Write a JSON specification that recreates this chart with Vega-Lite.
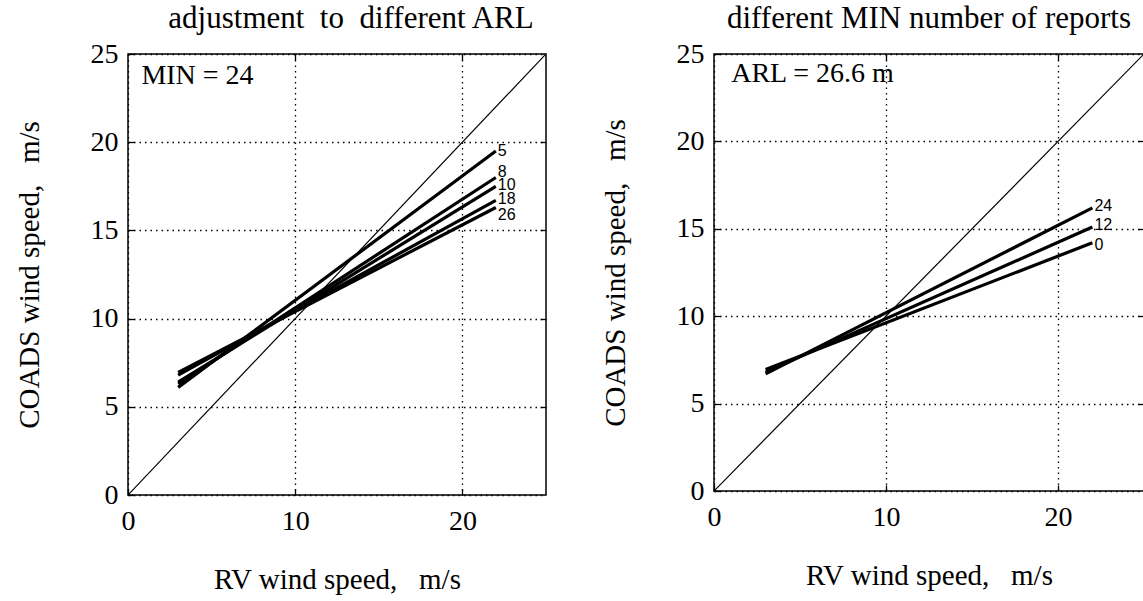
{
  "$schema": "https://vega.github.io/schema/vega-lite/v6.json",
  "background": "white",
  "padding": {"left": 14, "top": 2, "right": 0, "bottom": 0},
  "spacing": 52,
  "config": {
    "font": "Liberation Serif",
    "view": {"stroke": "black", "strokeWidth": 1.5},
    "axis": {
      "labelFont": "Liberation Serif", "labelFontSize": 28, "labelColor": "black",
      "titleFont": "Liberation Serif", "titleFontSize": 29, "titleFontWeight": "normal", "titleColor": "black",
      "domain": false, "gridColor": "black", "gridOpacity": 1, "gridDash": [1.5, 4], "gridWidth": 1.3,
      "tickColor": "black", "tickSize": -6, "tickWidth": 1.3, "labelFlush": false, "labelOverlap": false
    },
    "axisX": {"labelPadding": 18, "titlePadding": 30},
    "axisY": {"labelPadding": 16, "titlePadding": 46},
    "title": {"font": "Liberation Serif", "fontSize": 31, "fontWeight": "normal", "color": "black", "offset": 5}
  },
  "datasets": {
    "diag": [{"x": 0, "y": 0}, {"x": 25, "y": 25}],
    "leftLines": [
      {"ARL": "5", "x": 3, "y": 6.1}, {"ARL": "5", "x": 22, "y": 19.5},
      {"ARL": "8", "x": 3, "y": 6.3}, {"ARL": "8", "x": 22, "y": 18.0},
      {"ARL": "10", "x": 3, "y": 6.4}, {"ARL": "10", "x": 22, "y": 17.5},
      {"ARL": "18", "x": 3, "y": 6.8}, {"ARL": "18", "x": 22, "y": 16.7},
      {"ARL": "26", "x": 3, "y": 6.95}, {"ARL": "26", "x": 22, "y": 16.3}
    ],
    "leftLabels": [
      {"label": "5", "x": 22, "y": 19.5},
      {"label": "8", "x": 22, "y": 18.3},
      {"label": "10", "x": 22, "y": 17.6},
      {"label": "18", "x": 22, "y": 16.8},
      {"label": "26", "x": 22, "y": 15.9}
    ],
    "leftNote": [{"x": 0.8, "y": 23.3, "text": "MIN = 24"}],
    "rightLines": [
      {"MIN": "24", "x": 3, "y": 6.7}, {"MIN": "24", "x": 22, "y": 16.2},
      {"MIN": "12", "x": 3, "y": 6.8}, {"MIN": "12", "x": 22, "y": 15.1},
      {"MIN": "0", "x": 3, "y": 6.95}, {"MIN": "0", "x": 22, "y": 14.2}
    ],
    "rightLabels": [
      {"label": "24", "x": 22, "y": 16.3},
      {"label": "12", "x": 22, "y": 15.2},
      {"label": "0", "x": 22, "y": 14.1}
    ],
    "rightNote": [{"x": 1.0, "y": 23.4, "text": "ARL = 26.6 m"}]
  },
  "hconcat": [
    {
      "title": {"text": "adjustment\u00a0\u00a0to\u00a0\u00a0different ARL", "dx": 14},
      "width": 418,
      "height": 441,
      "resolve": {"axis": {"x": "independent", "y": "independent"}},
      "layer": [
        {"data": {"name": "diag"}, "mark": {"type": "line", "color": "black", "strokeWidth": 1.2, "clip": true},
         "encoding": {
           "x": {"field": "x", "type": "quantitative", "scale": {"domain": [0, 25], "nice": false},
                 "axis": {"orient": "top", "values": [10, 20], "labels": false, "title": null, "grid": false}},
           "y": {"field": "y", "type": "quantitative", "scale": {"domain": [0, 25], "nice": false},
                 "axis": {"orient": "right", "values": [5, 10, 15, 20], "labels": false, "title": null, "grid": false}}
         }},
        {"data": {"name": "leftLines"}, "mark": {"type": "line", "color": "black", "strokeWidth": 3.2},
         "encoding": {
           "x": {"field": "x", "type": "quantitative", "scale": {"domain": [0, 25], "nice": false},
                 "axis": {"orient": "bottom", "values": [0, 10, 20], "grid": true, "title": "RV wind speed,\u00a0\u00a0\u00a0m/s"}},
           "y": {"field": "y", "type": "quantitative", "scale": {"domain": [0, 25], "nice": false},
                 "axis": {"orient": "left", "values": [0, 5, 10, 15, 20, 25], "grid": true, "title": "COADS wind speed,\u00a0\u00a0\u00a0m/s"}},
           "detail": {"field": "ARL"}
         }},
        {"data": {"name": "leftLabels"}, "mark": {"type": "text", "align": "left", "baseline": "middle", "dx": 2, "font": "Liberation Sans", "fontSize": 16, "color": "black"},
         "encoding": {
           "x": {"field": "x", "type": "quantitative", "axis": null},
           "y": {"field": "y", "type": "quantitative", "axis": null},
           "text": {"field": "label"}
         }},
        {"data": {"name": "leftNote"}, "mark": {"type": "text", "align": "left", "baseline": "alphabetic", "font": "Liberation Serif", "fontSize": 28, "color": "black"},
         "encoding": {
           "x": {"field": "x", "type": "quantitative", "axis": null},
           "y": {"field": "y", "type": "quantitative", "axis": null},
           "text": {"field": "text"}
         }}
      ]
    },
    {
      "title": {"text": "different MIN number of reports"},
      "width": 430,
      "height": 437,
      "resolve": {"axis": {"x": "independent", "y": "independent"}},
      "layer": [
        {"data": {"name": "diag"}, "mark": {"type": "line", "color": "black", "strokeWidth": 1.2, "clip": true},
         "encoding": {
           "x": {"field": "x", "type": "quantitative", "scale": {"domain": [0, 25], "nice": false},
                 "axis": {"orient": "top", "values": [10, 20], "labels": false, "title": null, "grid": false}},
           "y": {"field": "y", "type": "quantitative", "scale": {"domain": [0, 25], "nice": false},
                 "axis": {"orient": "right", "values": [5, 10, 15, 20], "labels": false, "title": null, "grid": false}}
         }},
        {"data": {"name": "rightLines"}, "mark": {"type": "line", "color": "black", "strokeWidth": 3.2},
         "encoding": {
           "x": {"field": "x", "type": "quantitative", "scale": {"domain": [0, 25], "nice": false},
                 "axis": {"orient": "bottom", "values": [0, 10, 20], "grid": true, "title": "RV wind speed,\u00a0\u00a0\u00a0m/s"}},
           "y": {"field": "y", "type": "quantitative", "scale": {"domain": [0, 25], "nice": false},
                 "axis": {"orient": "left", "values": [0, 5, 10, 15, 20, 25], "grid": true, "title": "COADS wind speed,\u00a0\u00a0\u00a0m/s"}},
           "detail": {"field": "MIN"}
         }},
        {"data": {"name": "rightLabels"}, "mark": {"type": "text", "align": "left", "baseline": "middle", "dx": 2, "font": "Liberation Sans", "fontSize": 16, "color": "black"},
         "encoding": {
           "x": {"field": "x", "type": "quantitative", "axis": null},
           "y": {"field": "y", "type": "quantitative", "axis": null},
           "text": {"field": "label"}
         }},
        {"data": {"name": "rightNote"}, "mark": {"type": "text", "align": "left", "baseline": "alphabetic", "font": "Liberation Serif", "fontSize": 28, "color": "black"},
         "encoding": {
           "x": {"field": "x", "type": "quantitative", "axis": null},
           "y": {"field": "y", "type": "quantitative", "axis": null},
           "text": {"field": "text"}
         }}
      ]
    }
  ]
}
